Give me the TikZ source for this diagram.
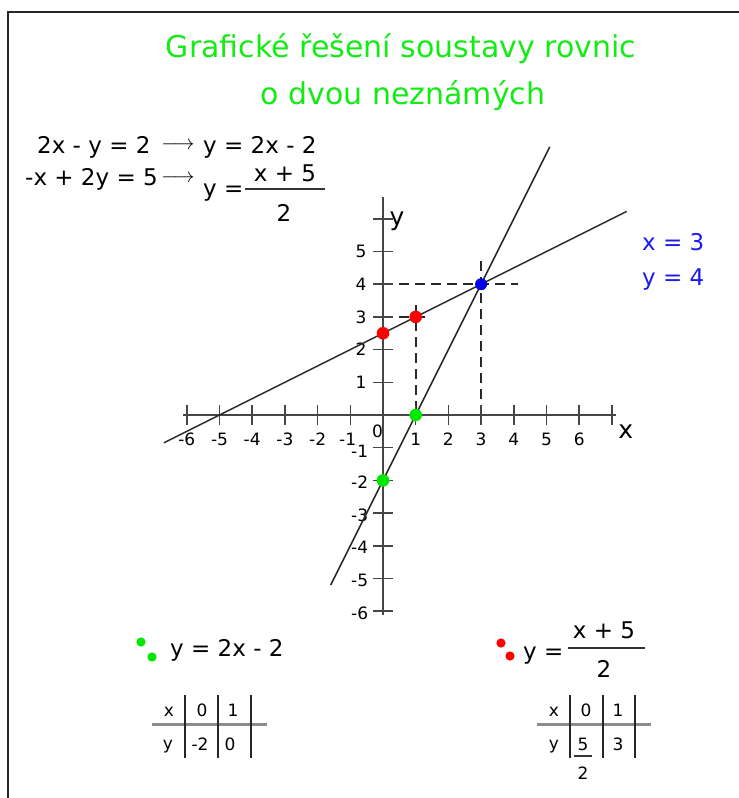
\documentclass[tikz,border=0pt]{standalone}
\usepackage{fontspec}
\setmainfont{DejaVu Sans}
\definecolor{titlegreen}{RGB}{20,235,20}
\definecolor{ptgreen}{RGB}{0,232,0}
\definecolor{ptred}{RGB}{255,0,0}
\definecolor{ptblue}{RGB}{0,0,225}
\definecolor{txtblue}{RGB}{25,25,240}
\definecolor{axisgray}{RGB}{70,70,70}
\definecolor{linegray}{RGB}{40,40,40}
\definecolor{tabgray}{RGB}{140,140,140}
\tikzset{
  titletext/.style={font=\fontsize{30}{36}\selectfont, text=titlegreen, inner sep=0pt, anchor=base},
  eqtext/.style={font=\fontsize{23}{27}\selectfont, inner sep=0pt},
  arrowtext/.style={font=\fontsize{22}{26}\selectfont, inner sep=0pt},
  numlbl/.style={font=\fontsize{17}{20}\selectfont, inner sep=0pt},
  axlbl/.style={font=\fontsize{25}{29}\selectfont, inner sep=0pt, anchor=base west},
  tabtext/.style={font=\fontsize{17}{20}\selectfont, inner sep=0pt, anchor=base},
  frameline/.style={line width=2pt, draw=black!85},
  axisline/.style={line width=1.8pt, draw=axisgray},
  tickline/.style={line width=1.5pt, draw=axisgray},
  fnline/.style={line width=1.5pt, draw=linegray},
  guide/.style={line width=1.6pt, draw=linegray, dash pattern=on 10pt off 6pt},
  fracbar/.style={line width=1.2pt, draw=black!80},
  tabh/.style={line width=3pt, draw=tabgray},
  tabv/.style={line width=1.5pt, draw=black!85},
}
\begin{document}
\begin{tikzpicture}[x=1pt,y=-1pt]
\useasboundingbox (0,0) rectangle (739,798);
% frame
\coordinate (fbl) at (8,799);
\coordinate (ftl) at (8,12);
\coordinate (ftr) at (740,12);
\draw[frameline] (fbl) -- (ftl) -- (ftr);

% title
\node[titletext] (title1) at (401,57) {Grafické řešení soustavy rovnic};
\node[titletext] (title2) at (403,104) {o dvou neznámých};

% equations top left
\node[eqtext, anchor=base west] (e1l) at (37,153) {2x - y = 2};
\node[arrowtext] (e1a) at (178,146) {$\longrightarrow$};
\node[eqtext, anchor=base west] (e1r) at (203,153) {y = 2x - 2};

\node[eqtext, anchor=base west] (e2l) at (25,185) {-x + 2y = 5};
\node[arrowtext] (e2a) at (178,179) {$\longrightarrow$};
\node[eqtext, anchor=base west] (e2r) at (203,196) {y =};
\node[eqtext, anchor=base] (e2n) at (285,181) {x + 5};
\coordinate (e2b1) at (245,189);
\coordinate (e2b2) at (325,189);
\draw[fracbar] (e2b1) -- (e2b2);
\node[eqtext, anchor=base] (e2d) at (284,221) {2};

% solution
\node[eqtext, anchor=base west, text=txtblue] (solx) at (642,250) {x = 3};
\node[eqtext, anchor=base west, text=txtblue] (soly) at (642,285) {y = 4};

% graph
\begin{scope}[shift={(383pt,-415pt)}, x=32.7pt, y=32.7pt]
  % guides
  \draw[guide] (0,4) -- (4.13,4);
  \draw[guide] (3,4.7) -- (3,0);
  \draw[guide] (1,3.35) -- (1,0);
  \draw[guide] (0,3) -- (1.3,3);
  % axes
  \coordinate (xl) at (-6.12,0);
  \coordinate (xr) at (7.13,0);
  \coordinate (yb) at (0,-6.12);
  \coordinate (yt) at (0,6.67);
  \draw[axisline] (xl) -- (xr);
  \draw[axisline] (yb) -- (yt);
  \foreach \i in {-6,...,-1,1,2,...,7} {
    \draw[tickline] (\i,-0.3) -- (\i,0.3);
  }
  \foreach \j in {-6,...,-1,1,2,...,6} {
    \draw[tickline] (-0.3,\j) -- (0.3,\j);
  }
  \foreach \i in {-6,...,-2,1,2,...,6} {
    \node[numlbl] at (\i,-0.75) {\i};
  }
  \node[numlbl] (xm1) at (-1.08,-0.75) {-1};
  \node[numlbl] (zero) at (-0.17,-0.5) {0};
  \foreach \j in {1,...,5} {
    \node[numlbl, anchor=east] at (-0.5,\j) {\j};
  }
  \foreach \j in {-6,...,-2} {
    \node[numlbl, anchor=east] at (-0.45,\j-0.06) {\j};
  }
  \node[numlbl, anchor=east] (ym1) at (-0.45,-1.12) {-1};
  \node[axlbl] (xlab) at (7.19,-0.73) {x};
  \node[axlbl] (ylab) at (0.2,5.81) {y};
  % lines
  \coordinate (l1a) at (-1.6,-5.2);
  \coordinate (l1b) at (5.1,8.2);
  \coordinate (l2a) at (-6.7,-0.85);
  \coordinate (l2b) at (7.45,6.225);
  \draw[fnline] (l1a) -- (l1b);
  \draw[fnline] (l2a) -- (l2b);
  % points
  \fill[ptred] (0,2.5) circle (6.3pt);
  \fill[ptred] (1,3) circle (6.3pt);
  \fill[ptgreen] (1,0) circle (6.3pt);
  \fill[ptgreen] (0,-2) circle (6.3pt);
  \fill[ptblue] (3,4) circle (6pt);
\end{scope}

% bottom left equation and table
\fill[ptgreen] (141,642) circle (4.6pt);
\fill[ptgreen] (152,657) circle (4.6pt);
\node[eqtext, anchor=base west] (b1) at (170,656) {y = 2x - 2};
\coordinate (t1h1) at (152,724);
\coordinate (t1h2) at (267,724);
\draw[tabh] (t1h1) -- (t1h2);
\foreach \xx in {185,218,251} {
  \draw[tabv] (\xx,695) -- (\xx,758);
}
\node[tabtext] at (169,716) {x};
\node[tabtext] at (202,716) {0};
\node[tabtext] at (233,716) {1};
\node[tabtext] at (168,749) {y};
\node[tabtext] at (200,750) {-2};
\node[tabtext] at (230,750) {0};

% bottom right equation and table
\fill[ptred] (501,643) circle (4.6pt);
\fill[ptred] (510,656) circle (4.6pt);
\node[eqtext, anchor=base west] (b2) at (523,659) {y =};
\node[eqtext, anchor=base] (b2n) at (604,638) {x + 5};
\coordinate (b2b1) at (568,648);
\coordinate (b2b2) at (645,648);
\draw[fracbar] (b2b1) -- (b2b2);
\node[eqtext, anchor=base] (b2d) at (604,677) {2};
\coordinate (t2h1) at (537,724);
\coordinate (t2h2) at (651,724);
\draw[tabh] (t2h1) -- (t2h2);
\foreach \xx in {570,603,635} {
  \draw[tabv] (\xx,695) -- (\xx,758);
}
\node[tabtext] at (554,716) {x};
\node[tabtext] at (586,716) {0};
\node[tabtext] at (618,716) {1};
\node[tabtext] at (554,749) {y};
\node[tabtext] at (583,750) {5};
\coordinate (fb1) at (574,756);
\coordinate (fb2) at (592,756);
\draw[fracbar] (fb1) -- (fb2);
\node[tabtext] at (583,779) {2};
\node[tabtext] at (618,750) {3};
\end{tikzpicture}
\end{document}
